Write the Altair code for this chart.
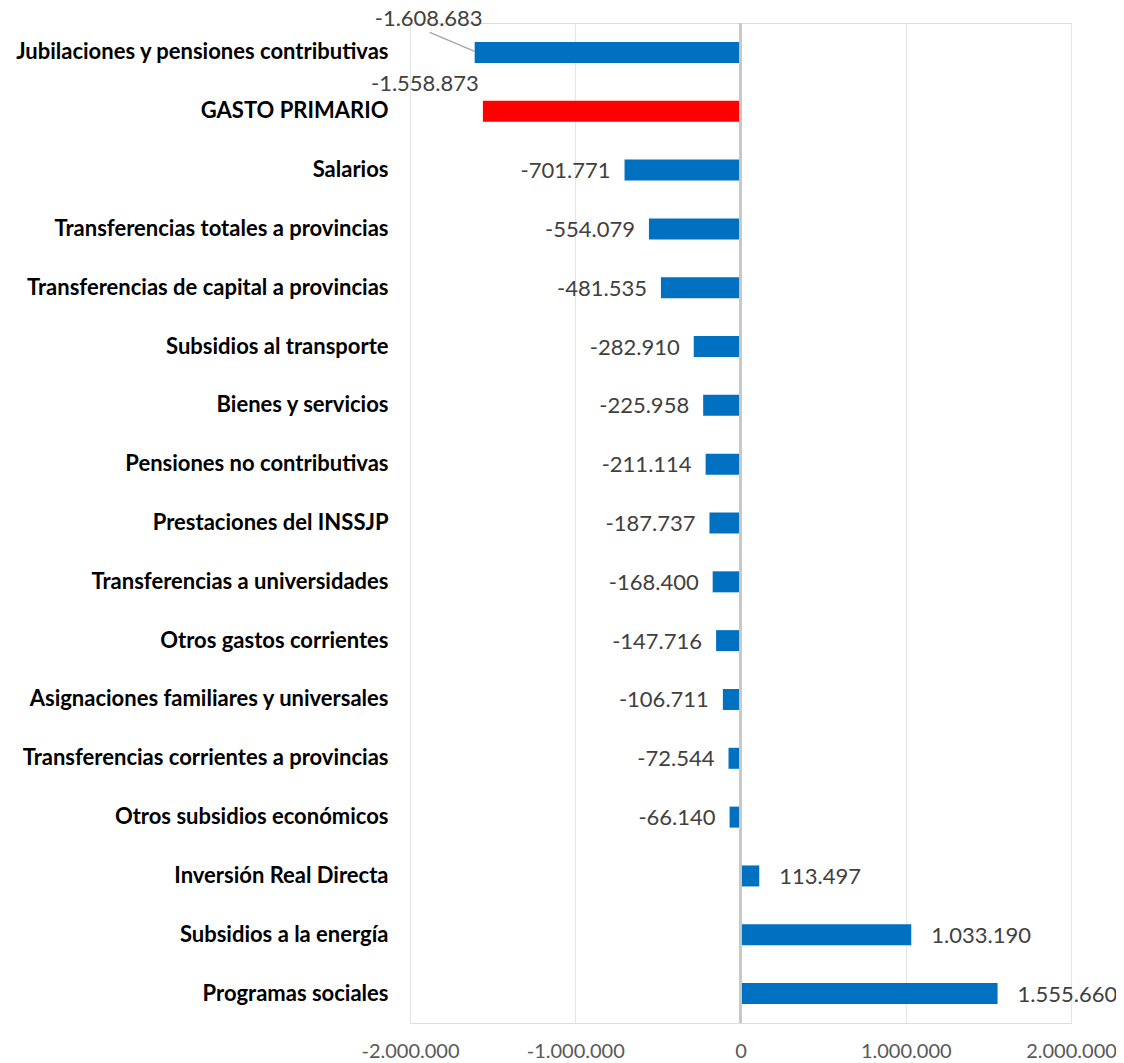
import altair as alt
import pandas as pd

categories = [
    "Jubilaciones y pensiones contributivas",
    "GASTO PRIMARIO",
    "Salarios",
    "Transferencias totales a provincias",
    "Transferencias de capital a provincias",
    "Subsidios al transporte",
    "Bienes y servicios",
    "Pensiones no contributivas",
    "Prestaciones del INSSJP",
    "Transferencias a universidades",
    "Otros gastos corrientes",
    "Asignaciones familiares y universales",
    "Transferencias corrientes a provincias",
    "Otros subsidios económicos ",
    "Inversión Real Directa",
    "Subsidios a la energía",
    "Programas sociales",
]
values = [
    -1608683, -1558873, -701771, -554079, -481535, -282910, -225958,
    -211114, -187737, -168400, -147716, -106711, -72544, -66140,
    113497, 1033190, 1555660,
]
axis_ticks = [-2000000, -1000000, 0, 1000000, 2000000]

df = pd.DataFrame({"cat": categories, "v": values})

FMT = "(datum.v < 0 ? '-' : '') + replace(format(abs(datum.v), ','), regexp(',', 'g'), '.')"
AXFMT = "(datum.value < 0 ? '-' : '') + replace(format(abs(datum.value), ','), regexp(',', 'g'), '.')"

x_scale = alt.Scale(domain=[-2000000, 2000000], nice=False, zero=False)
y_scale = alt.Scale(paddingInner=0.643, paddingOuter=0.3215)

xenc = alt.X(
    "v:Q",
    scale=x_scale,
    title=None,
    axis=alt.Axis(
        values=axis_ticks,
        labelExpr=AXFMT,
        labelFlush=False,
        domain=False,
        ticks=False,
        tickSize=0,
        grid=True,
        gridColor="#e4e4e4",
        gridWidth=1,
        labelFont="Lato",
        labelFontSize=20,
        labelColor="#595959",
        labelPadding=18,
    ),
)
yenc = alt.Y(
    "cat:N",
    sort=categories,
    scale=y_scale,
    title=None,
    axis=alt.Axis(
        domain=False,
        ticks=False,
        tickSize=0,
        grid=False,
        labelFont="Lato",
        labelFontWeight="bold",
        labelFontSize=22,
        labelColor="#000000",
        labelPadding=22,
        labelLimit=600,
    ),
)

base = alt.Chart(df)

bars = base.mark_bar().encode(
    x=xenc,
    y=yenc,
    color=alt.condition(
        alt.datum.cat == "GASTO PRIMARIO", alt.value("#FF0000"), alt.value("#0070C0")
    ),
)

zero = base.mark_rule(color="#c8c8c8", strokeWidth=2).encode(x=alt.datum(0))

lbl = base.transform_calculate(lab=FMT)

txt_style = dict(font="Lato", fontSize=22, color="#404040", baseline="middle")

neg = lbl.transform_filter(
    "datum.v < 0 && datum.cat != 'GASTO PRIMARIO' && datum.cat != 'Jubilaciones y pensiones contributivas'"
).mark_text(align="right", dx=-14, dy=1, **txt_style).encode(
    x="v:Q", y=alt.Y("cat:N", sort=categories), text="lab:N"
)
pos = lbl.transform_filter("datum.v > 0").mark_text(
    align="left", dx=20, dy=1, **txt_style
).encode(x="v:Q", y=alt.Y("cat:N", sort=categories), text="lab:N")

jub = lbl.transform_filter(
    "datum.cat == 'Jubilaciones y pensiones contributivas'"
).mark_text(align="center", dx=-46, dy=-33, **txt_style).encode(
    x="v:Q", y=alt.Y("cat:N", sort=categories), text="lab:N"
)
gasto = lbl.transform_filter("datum.cat == 'GASTO PRIMARIO'").mark_text(
    align="center", dx=-58, dy=-27, **txt_style
).encode(x="v:Q", y=alt.Y("cat:N", sort=categories), text="lab:N")

leader = base.transform_filter(
    "datum.cat == 'Jubilaciones y pensiones contributivas'"
).mark_rule(
    color="#a6a6a6", strokeWidth=1.5, xOffset=-45, yOffset=-20, x2Offset=0, y2Offset=-1
).encode(
    x="v:Q",
    x2="v:Q",
    y=alt.Y("cat:N", sort=categories),
    y2="cat:N",
)

chart = (
    alt.layer(bars, zero, leader, neg, pos, jub, gasto)
    .properties(
        width=661,
        height=1000,
        autosize=alt.AutoSizeParams(type="none"),
        padding={"left": 402, "top": 15, "right": 45, "bottom": 40},
    )
    .configure_view(stroke=None)
    .configure(background="white")
)

chart.save("out.html", embed_options={"renderer": "svg", "actions": False})
